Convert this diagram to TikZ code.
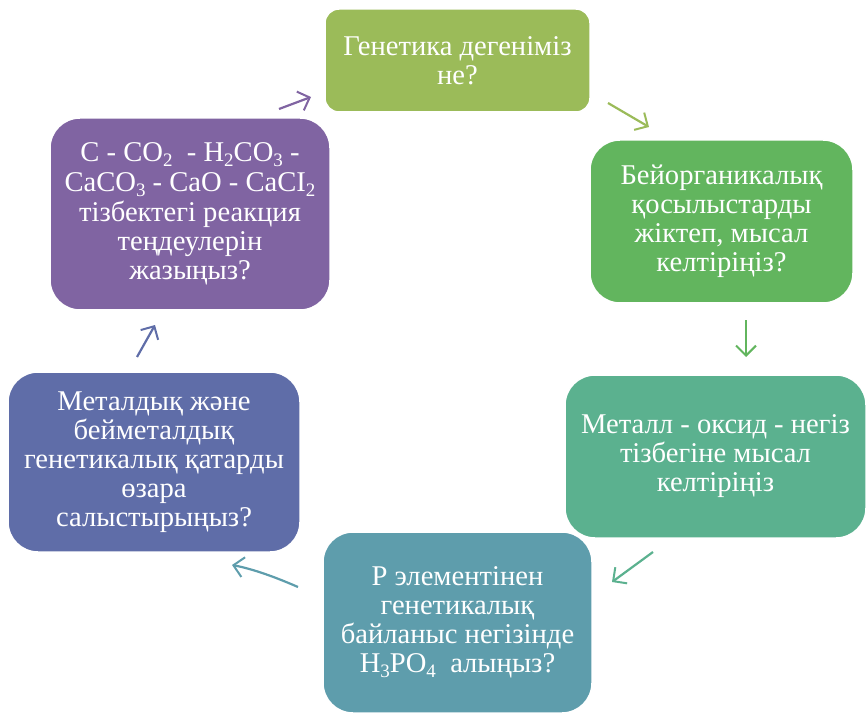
\documentclass[tikz,border=0pt]{standalone}
\usepackage{fontspec}
\setmainfont{Liberation Serif}
\usetikzlibrary{arrows.meta}
\definecolor{cOlive}{HTML}{9BBB59}
\definecolor{cGreen}{HTML}{62B55E}
\definecolor{cTealGreen}{HTML}{5BB18F}
\definecolor{cTeal}{HTML}{5E9DAC}
\definecolor{cBlue}{HTML}{5F6DA8}
\definecolor{cPurple}{HTML}{8064A2}
\newcommand{\chsub}[1]{\raisebox{-0.16em}{\fontsize{19}{19}\selectfont #1}}
\tikzset{
  qbox/.style={draw=white, line width=1.5pt, fill=#1, text=white, rounded corners=30pt,
    inner sep=0pt, align=center, font=\fontsize{28.6}{29}\selectfont},
  cyc/.style={draw=#1, line width=2.2pt, -{Straight Barb[length=10pt,width=20pt,line width=2pt]}}
}
\begin{document}
\begin{tikzpicture}[x=1pt,y=-1pt]
\useasboundingbox (0,0) rectangle (868,714);
% boxes
\node[qbox=cOlive, rounded corners=14pt, minimum width=265pt, minimum height=103pt] (b1) at (457.5,60.5)
  {Генетика дегеніміз\\не?};
\node[qbox=cGreen, minimum width=263pt, minimum height=163pt] (b2) at (721.5,221.5)
  {Бейорганикалық\\қосылыстарды\\жіктеп, мысал\\келтіріңіз?};
\node[qbox=cTealGreen, minimum width=301pt, minimum height=163pt] (b3) at (715.5,456.5)
  {Металл - оксид - негіз\\тізбегіне мысал\\келтіріңіз};
\node[qbox=cTeal, minimum width=269pt, minimum height=181pt] (b4) at (457.5,622.5)
  {P элементінен\\генетикалық\\байланыс негізінде\\H\chsub{3}PO\chsub{4}\ \ алыңыз?};
\node[qbox=cBlue, minimum width=292pt, minimum height=180pt] (b5) at (154,462)
  {Металдық және\\бейметалдық\\генетикалық қатарды\\өзара\\салыстырыңыз?};
\node[qbox=cPurple, minimum width=280pt, minimum height=192pt] (b6) at (190,214)
  {C - CO\chsub{2}\ \ - H\chsub{2}CO\chsub{3} -\\[1pt]CaCO\chsub{3} - CaO - CaCI\chsub{2}\\[1pt]тізбектегі реакция\\теңдеулерін\\жазыңыз?};
% arrow end points
\coordinate (a1s) at (279,109); \coordinate (a1e) at (311,97);
\coordinate (a2s) at (608,103); \coordinate (a2e) at (649,127);
\coordinate (a3s) at (746,320); \coordinate (a3e) at (746,357);
\coordinate (a4s) at (653,552); \coordinate (a4e) at (612,582);
\coordinate (a5s) at (298,587); \coordinate (a5e) at (232,565);
\coordinate (a6s) at (137,357); \coordinate (a6e) at (155,325);
\draw[cyc=cPurple] (a1s) -- (a1e);
\draw[cyc=cOlive] (a2s) -- (a2e);
\draw[cyc=cGreen] (a3s) -- (a3e);
\draw[cyc=cTealGreen] (a4s) -- (a4e);
\draw[cyc=cTeal] (a5s) .. controls (275,577) and (253,569) .. (a5e);
\draw[cyc=cBlue] (a6s) -- (a6e);
\end{tikzpicture}
\end{document}
